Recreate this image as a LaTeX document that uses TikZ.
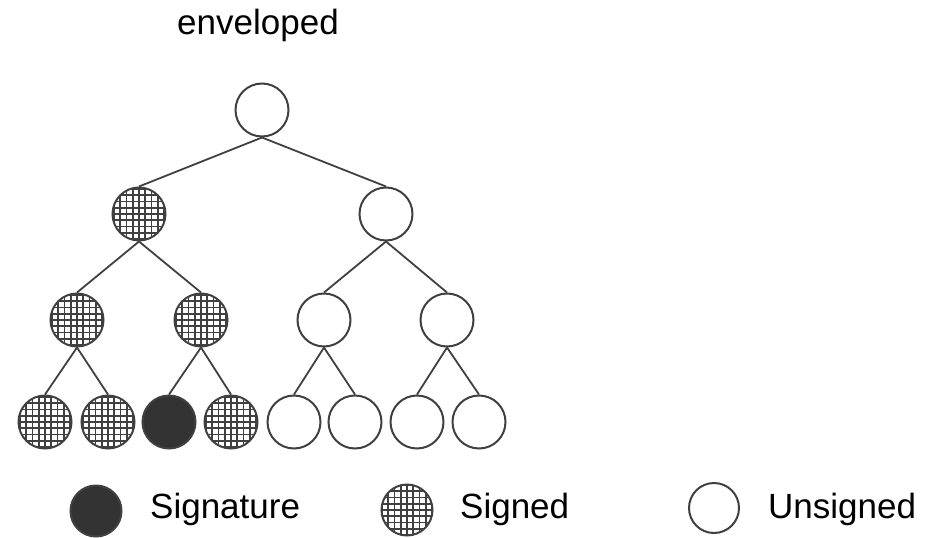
\documentclass[tikz,border=0pt]{standalone}
\usepackage{fontspec}
\setmainfont{Liberation Sans}
\begin{document}
\begin{tikzpicture}[x=1pt,y=-1pt,
  nd/.style={circle,draw=black!75,line width=2pt,minimum size=53pt,inner sep=0pt},
  unsigned/.style={nd,fill=white},
  signature/.style={nd,fill=black!80},
  signed/.style={nd,fill=white,path picture={
      \draw[line width=1.7pt,black!75]
        ([shift={(-3pt,-3pt)}]path picture bounding box.south west)
        grid[step=6.3pt]
        ([shift={(3pt,3pt)}]path picture bounding box.north east);}},
  edge/.style={line width=1.8pt,black!75},
  lbl/.style={font=\fontsize{35}{40}\selectfont,anchor=west,inner sep=0pt}]
\useasboundingbox (0,0) rectangle (932,538);

\node[font=\fontsize{35}{40}\selectfont] (title) at (258,25) {enveloped};

% tree
\node[unsigned] (r) at (262,110) {};
\node[signed] (a) at (139,214) {};
\node[unsigned] (b) at (386,214) {};
\node[signed] (aa) at (77,320) {};
\node[signed] (ab) at (201,320) {};
\node[unsigned] (ba) at (324,320) {};
\node[unsigned] (bb) at (447,320) {};
\node[signed] (aaa) at (45,422) {};
\node[signed] (aab) at (108,422) {};
\node[signature] (aba) at (169,422) {};
\node[signed] (abb) at (231,422) {};
\node[unsigned] (baa) at (294,422) {};
\node[unsigned] (bab) at (355,422) {};
\node[unsigned] (bba) at (417,422) {};
\node[unsigned] (bbb) at (479,422) {};

\foreach \p/\c in {r/a,r/b,a/aa,a/ab,b/ba,b/bb,aa/aaa,aa/aab,ab/aba,ab/abb,ba/baa,ba/bab,bb/bba,bb/bbb}
  \draw[edge] (\p.south) -- (\c.north);

% legend
\node[signature,minimum size=51pt] (k1) at (96,511) {};
\node[lbl] (t1) at (150,509) {Signature};
\node[signed,minimum size=51pt] (k2) at (407,510) {};
\node[lbl] (t2) at (460,509) {Signed};
\node[unsigned,minimum size=50pt] (k3) at (714,508) {};
\node[lbl] (t3) at (768,509) {Unsigned};
\end{tikzpicture}
\end{document}
